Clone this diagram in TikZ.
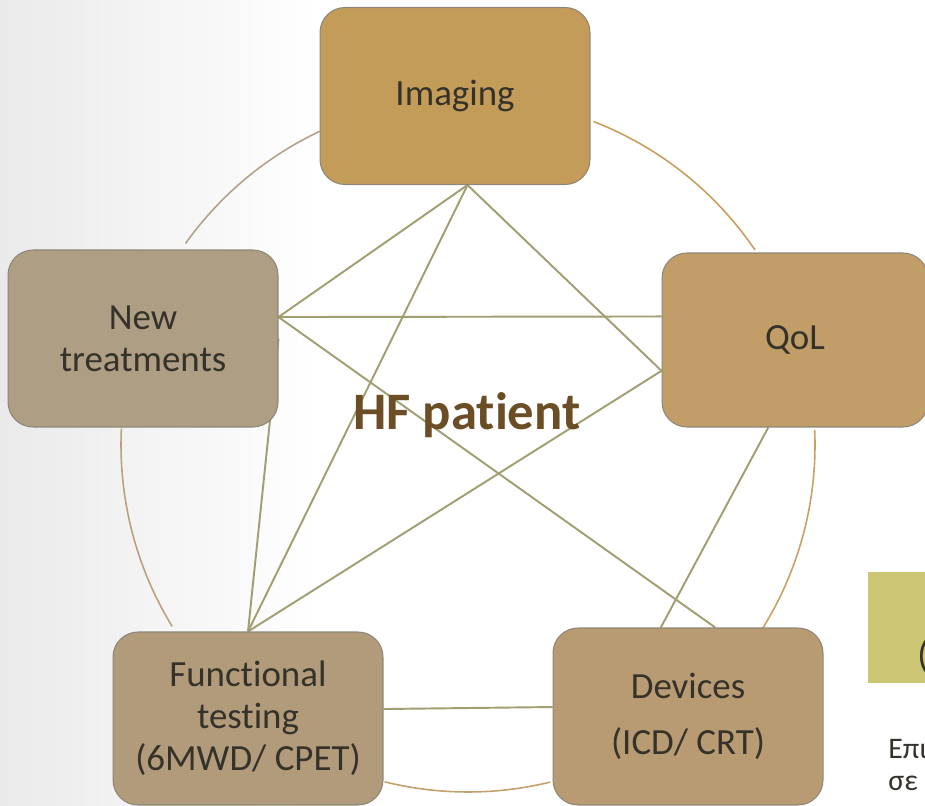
\documentclass[tikz,border=0pt]{standalone}
\usepackage{fontspec}
\setmainfont{Carlito}[Ligatures=NoCommon]
\usepackage{xcolor}
\usepackage{tikz}
\usetikzlibrary{positioning, backgrounds}

\definecolor{imgfill}{HTML}{C49C5A}
\definecolor{qolfill}{HTML}{C19D67}
\definecolor{newfill}{HTML}{AE9E84}
\definecolor{funcfill}{HTML}{B29B7A}
\definecolor{devfill}{HTML}{B99B73}
\definecolor{sidefill}{HTML}{CCC574}
\definecolor{boxline}{HTML}{8E8676}
\definecolor{boxtext}{HTML}{35322A}
\definecolor{linkc}{HTML}{A19E72}
\definecolor{hfc}{HTML}{6B4E25}
\definecolor{ringa}{HTML}{B3A189}
\definecolor{ringb}{HTML}{C99E5C}
\definecolor{ringc}{HTML}{C9A062}
\definecolor{ringd}{HTML}{C3A06E}
\definecolor{ringe}{HTML}{BCA07E}
\definecolor{bgl}{HTML}{EAEAEA}

\begin{document}
\begin{tikzpicture}[x=0.02cm, y=0.02cm]

		\tikzstyle{item}=[rectangle, rounded corners=0.5cm, draw=boxline, line width=0.6pt, minimum width=5.4cm, minimum height=3.54cm, text=boxtext, align=center, font=\fontsize{21}{24}\selectfont]
		\tikzstyle{link}=[draw=linkc, line width=1.1pt]
		\tikzstyle{ring}=[line width=0.9pt]

		\useasboundingbox (0,0) rectangle (925,805);

		\node (img) at (455,709) [item, fill=imgfill] {Imaging};
		\node (qol) at (795,465) [item, fill=qolfill, minimum width=5.32cm, minimum height=3.48cm] {QoL};
		\node (newt) at (143,466.5) [item, fill=newfill] {New\\treatments};
		\node (func) at (248,86.5) [item, fill=funcfill, minimum height=3.46cm] {Functional\\testing\\(6MWD/ CPET)};
		\node (dev) at (688,88.5) [item, fill=devfill] {Devices\\[8pt](ICD/ CRT)};

		\node (hf) at (467,390) [font=\fontsize{30}{36}\selectfont\bfseries, text=hfc] {HF patient};

		%% cut-off box and text at the right edge
		\node (side) at (868,122) [anchor=south west, fill=sidefill, minimum width=2cm, minimum height=2.22cm, inner sep=0] {};
		\node (paren) at (917,138) [anchor=base west, inner sep=0, text=boxtext, font=\fontsize{21}{24}\selectfont] {(};
		\node (txta) at (888,47) [anchor=base west, inner sep=0, text=boxtext, font=\fontsize{17}{19}\selectfont] {Επι};
		\node (txtb) at (888,15) [anchor=base west, inner sep=0, text=boxtext, font=\fontsize{17}{19}\selectfont] {σε};

		\coordinate (o) at (468,360);

		\begin{pgfonlayer}{background}
		\shade [left color=bgl, right color=white] (0,0) rectangle (320,805);

		\draw [ring, draw=ringa] (o) ++(115.3:347) arc [start angle=115.3, end angle=144.5, radius=347];
		\draw [ring, draw=ringb] (o) ++(68.8:347) arc [start angle=68.8, end angle=34.2, radius=347];
		\draw [ring, draw=ringc] (o) ++(2.5:347) arc [start angle=2.5, end angle=-31.9, radius=347];
		\draw [ring, draw=ringd] (o) ++(-76.3:347) arc [start angle=-76.3, end angle=-103.9, radius=347];
		\draw [ring, draw=ringe] (o) ++(211.5:347) arc [start angle=211.5, end angle=177.3, radius=347];

		\draw [link] (img.-82) -- (newt.9);
		\draw [link] (img.-82) -- (func.north);
		\draw [link] (img.-82) -- (qol.193);
		\draw [link] (newt.9) -- (qol.170);
		\draw [link] (newt.9) -- (dev.73);
		\draw [link] (newt.east) -- (func.north);
		\draw [link] (func.north) -- (qol.193);
		\draw [link] (qol.253) -- (dev.107);
		\draw [link] (func.4.5) -- (dev.176);
		\end{pgfonlayer}

\end{tikzpicture}
\end{document}
